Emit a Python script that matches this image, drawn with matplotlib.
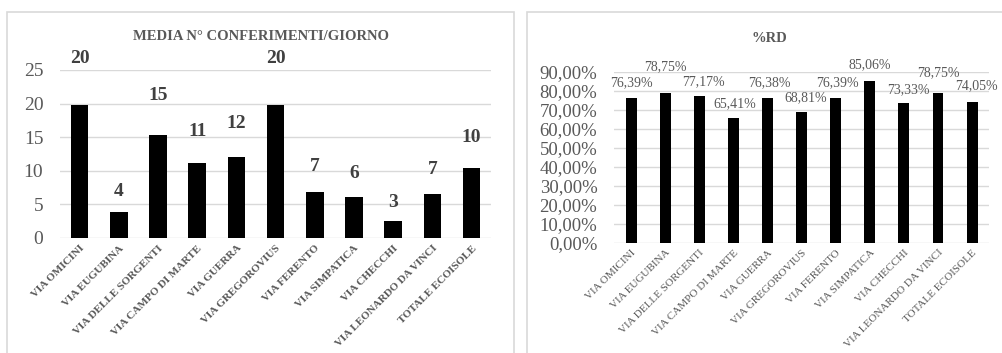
import matplotlib
matplotlib.use("Agg")
import matplotlib.pyplot as plt
from matplotlib.patches import Rectangle
from matplotlib.ticker import FuncFormatter

plt.rcParams['font.family'] = ['Liberation Serif', 'DejaVu Serif']

vie = ["VIA OMICINI", "VIA EUGUBINA", "VIA DELLE SORGENTI", "VIA CAMPO DI MARTE",
       "VIA GUERRA", "VIA GREGOROVIUS", "VIA FERENTO", "VIA SIMPATICA",
       "VIA CHECCHI", "VIA LEONARDO DA VINCI", "TOTALE ECOISOLE"]
conferimenti = [19.8, 3.9, 15.4, 11.1, 12.0, 19.8, 6.9, 6.1, 2.6, 6.6, 10.4]
perc_rd = [76.39, 78.75, 77.17, 65.41, 76.38, 68.81, 76.39, 85.06, 73.33, 78.75, 74.05]

GRIGIO = "#595959"
GRIGLIA = "#d9d9d9"

fig = plt.figure(figsize=(10.03, 3.53), dpi=100)

# cornici dei due grafici
fig.patches.append(Rectangle((0.007, -0.05), 0.5055, 1.016, transform=fig.transFigure,
                             fill=False, edgecolor=GRIGLIA, linewidth=1.2))
fig.patches.append(Rectangle((0.5254, -0.05), 0.6, 1.016, transform=fig.transFigure,
                             fill=False, edgecolor=GRIGLIA, linewidth=1.2))

x = range(len(vie))

# --- media conferimenti / giorno ---
ax1 = fig.add_axes([0.0598, 0.3258, 0.43, 0.4759])
ax1.bar(x, conferimenti, width=0.45, color="black", zorder=3)
ax1.set_xlim(-0.5, 10.5)
ax1.set_ylim(0, 25)
ax1.set_yticks(range(0, 26, 5))
ax1.grid(axis="y", color=GRIGLIA, linewidth=1)
for s in ax1.spines.values():
    s.set_visible(False)
ax1.tick_params(length=0)
ax1.tick_params(axis="y", labelsize=14, labelcolor=GRIGIO, pad=12)
ax1.set_xticks(list(x))
ax1.set_xticklabels(vie, rotation=45, ha="right", rotation_mode="anchor",
                    fontsize=8, fontweight="bold", color=GRIGIO)
ax1.tick_params(axis="x", pad=4)
for i, v in enumerate(conferimenti):
    ax1.text(i, v * 1.25 + 2, f"{v:.0f}", ha="center", va="center",
             fontsize=14, fontweight="bold", color="#404040", clip_on=False)
fig.text(0.26, 1 - 37 / 353, "MEDIA N° CONFERIMENTI/GIORNO", ha="center", va="center",
         fontsize=10.5, fontweight="bold", color=GRIGIO)

# --- percentuale raccolta differenziata ---
ax2 = fig.add_axes([0.6122, 0.3125, 0.374, 0.4844])
ax2.bar(x, perc_rd, width=0.32, color="black", zorder=3)
ax2.set_xlim(-0.5, 10.5)
ax2.set_ylim(0, 90)
ax2.set_yticks(range(0, 91, 10))
ax2.yaxis.set_major_formatter(FuncFormatter(lambda v, p: f"{v:.2f}%".replace(".", ",")))
ax2.grid(axis="y", color=GRIGLIA, linewidth=1)
for s in ax2.spines.values():
    s.set_visible(False)
ax2.tick_params(length=0)
ax2.tick_params(axis="y", labelsize=13.5, labelcolor=GRIGIO, pad=12)
ax2.set_xticks(list(x))
ax2.set_xticklabels(vie, rotation=45, ha="right", rotation_mode="anchor",
                    fontsize=8, color=GRIGIO)
ax2.tick_params(axis="x", pad=4)
spost_x = [0, 0, 3, 1, 1, 3, 1, 0, 3, 0, 3]
spost_y = [10.5, 18.7, 10.5, 10.5, 10.5, 10.5, 10.5, 11.5, 10, 15, 12]
for i, v in enumerate(perc_rd):
    ax2.annotate(f"{v:.2f}%".replace(".", ","), (i, v), xytext=(spost_x[i], spost_y[i]),
                 textcoords="offset points", ha="center", va="center",
                 fontsize=10, color=GRIGIO, annotation_clip=False)
fig.text(0.767, 1 - 38 / 353, "%RD", ha="center", va="center",
         fontsize=10.5, fontweight="bold", color=GRIGIO)

fig.savefig("out.png", dpi=100)
